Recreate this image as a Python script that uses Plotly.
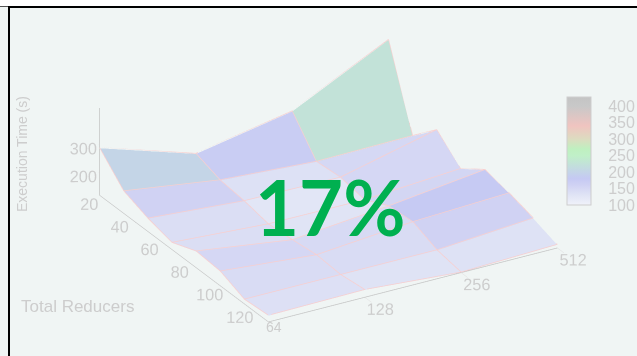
import math
import plotly.graph_objects as go

x_labels = ["64", "128", "256", "512"]
x_positions = [6, 7, 8, 9]
reducers = [16, 32, 48, 64, 80, 96, 112, 128]
y_ticks = [20, 40, 60, 80, 100, 120]
z_ticks = [200, 300]
cbar_ticks = [100, 150, 200, 250, 300, 350, 400]

time_64 = [286, 196, 163, 141, 175, 168, 132, 139]
time_128 = [177, 147, 137, 119, 127, 138, 132, 143]
time_256 = [241, 125, 133, 117, 160, 168, 132, 117]
time_512 = [409, 129, 215, 141, 202, 183, 158, 128]
columns = [time_64, time_128, time_256, time_512]

ZMIN, ZMAX = 100, 428
stops = [(100, "#f0f2fa"), (130, "#e0e4f5"), (160, "#d0d2f3"), (180, "#c5c9f3"),
         (200, "#c4d4e8"), (250, "#c0f0c8"), (270, "#bff0c0"), (300, "#dcdcc0"),
         (340, "#f0c4c0"), (400, "#c8c8c8"), (428, "#c4c4c4")]
colorscale = [[(v - ZMIN) / (ZMAX - ZMIN), c] for v, c in stops]

GREY = "#cdcdcd"
EDGE = "#f8cfcf"
BG = "#f0f5f4"
EDGE_LIFT = 2

vx, vy, vz, ti, tj, tk, inten = [], [], [], [], [], [], []
for a, col in zip(x_positions, columns):
    for r, t in zip(reducers, col):
        vx.append(a); vy.append(r); vz.append(t)
nr = len(reducers)
for a in range(len(columns) - 1):
    for b in range(nr - 1):
        p = a * nr + b
        q = p + 1
        s = p + nr
        u = s + 1
        m = (vz[p] + vz[q] + vz[s] + vz[u]) / 4
        ti += [p, p]; tj += [q, u]; tk += [u, s]
        inten += [m, m]

fig = go.Figure()
fig.add_trace(go.Mesh3d(
    x=vx, y=vy, z=vz, i=ti, j=tj, k=tk, intensity=inten, intensitymode="cell",
    colorscale=colorscale, cmin=ZMIN, cmax=ZMAX, hoverinfo="skip",
    flatshading=True,
    lighting=dict(ambient=1, diffuse=0, specular=0, roughness=1, fresnel=0),
    colorbar=dict(x=567 / 637, xanchor="left", y=1 - 97 / 356, yanchor="top",
                  lenmode="pixels", len=108, thicknessmode="pixels", thickness=24,
                  xpad=0, ypad=0, outlinecolor=GREY, outlinewidth=1, borderwidth=0,
                  tickmode="array", tickvals=cbar_ticks, ticks="outside", ticklen=14,
                  tickcolor="rgba(0,0,0,0)", tickfont=dict(family="Liberation Sans", size=16, color=GREY)),
))

lx, ly, lz = [], [], []
for a, col in zip(x_positions, columns):
    lx += [a] * nr + [None]; ly += reducers + [None]; lz += [v + EDGE_LIFT for v in col] + [None]
for b in range(nr):
    lx += x_positions + [None]
    ly += [reducers[b]] * len(columns) + [None]
    lz += [c[b] + EDGE_LIFT for c in columns] + [None]
fig.add_trace(go.Scatter3d(x=lx, y=ly, z=lz, mode="lines", line=dict(color=EDGE, width=1.5),
                           hoverinfo="skip", showlegend=False))

tick_font = dict(family="Liberation Sans", size=14, color=GREY)
axis_common = dict(showbackground=False, showgrid=False, zeroline=False, showline=True,
                   linecolor="#c4c4c4", linewidth=1.5, ticks="outside", tickcolor="#dddddd",
                   tickfont=tick_font, tickangle=0, title=dict(text=""), showspikes=False)
t = math.radians(30.3)
el = math.radians(26)
R = 1.06
S = 1.88

shapes = [
    dict(type="rect", xref="paper", yref="paper", x0=0, x1=1, y0=1 - 6 / 356, y1=1, fillcolor="white", line_width=0),
    dict(type="line", xref="paper", yref="paper", x0=9 / 637, x1=1, y0=1 - 7 / 356, y1=1 - 7 / 356, line=dict(color="black", width=2)),
    dict(type="line", xref="paper", yref="paper", x0=0, x1=9 / 637, y0=1 - 6.5 / 356, y1=1 - 6.5 / 356, line=dict(color="#555555", width=1)),
    dict(type="line", xref="paper", yref="paper", x0=9 / 637, x1=9 / 637, y0=0, y1=1 - 6 / 356, line=dict(color="black", width=2)),
]
for v in cbar_ticks[1:]:
    yp = 205 - (v - ZMIN) / (ZMAX - ZMIN) * 108
    for x0, x1 in ((567, 572), (586, 591)):
        shapes.append(dict(type="line", xref="paper", yref="paper", x0=x0 / 637, x1=x1 / 637,
                           y0=1 - yp / 356, y1=1 - yp / 356, line=dict(color=GREY, width=1)))

fig.update_layout(
    width=637, height=356, margin=dict(l=0, r=0, t=0, b=0),
    paper_bgcolor=BG, showlegend=False,
    scene=dict(
        domain=dict(x=[20 / 637, 1], y=[0, 1]), bgcolor="rgba(0,0,0,0)",
        xaxis=dict(axis_common, ticklen=1, tickmode="array", tickvals=x_positions, ticktext=x_labels, range=[6, 9]),
        yaxis=dict(axis_common, ticklen=13, tickmode="array", tickvals=y_ticks, range=[128, 16]),
        zaxis=dict(axis_common, ticklen=13, tickmode="array", tickvals=z_ticks, range=[117, 430]),
        aspectmode="manual", aspectratio=dict(x=S, y=S, z=0.29 * S),
        camera=dict(projection=dict(type="orthographic"),
                    up=dict(x=0, y=0, z=1), center=dict(x=0, y=0, z=0),
                    eye=dict(x=-R * math.sin(t) * math.cos(el), y=-R * math.cos(t) * math.cos(el), z=R * math.sin(el))),
    ),
    shapes=shapes,
    annotations=[
        dict(text="17%", xref="paper", yref="paper", x=330 / 637, y=1 - 206 / 356, showarrow=False,
             xanchor="center", yanchor="middle",
             font=dict(family="Lato", size=76, color="#00b050", weight="bold")),
        dict(text="Total Reducers", xref="paper", yref="paper", x=77 / 637, y=1 - 306 / 356, showarrow=False,
             xanchor="center", yanchor="middle",
             font=dict(family="Liberation Sans", size=17, color=GREY)),
        dict(text="Execution Time (s)", xref="paper", yref="paper", x=22 / 637, y=1 - 154 / 356, showarrow=False,
             xanchor="center", yanchor="middle",
             textangle=-90, font=dict(family="Liberation Sans", size=14, color=GREY)),
        dict(text=x_labels[0], xref="paper", yref="paper", x=274 / 637, y=1 - 327 / 356, showarrow=False,
             xanchor="center", yanchor="middle",
             font=dict(family="Liberation Sans", size=14, color=GREY)),
    ],
)
fig.write_html("out.html", config=dict(displayModeBar=False),
               post_script="document.body.style.margin='0';document.body.style.overflow='hidden';")
